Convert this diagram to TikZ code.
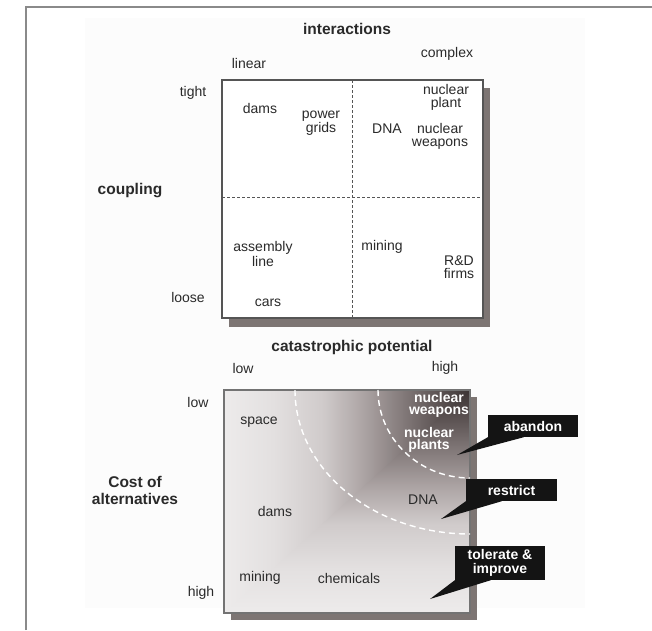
\documentclass[tikz,border=0pt]{standalone}
\usepackage{fontspec}
\setmainfont{Liberation Sans}
\usetikzlibrary{calc}
\definecolor{txt}{HTML}{2A2A2A}
\definecolor{shadowc}{HTML}{7D7573}
\definecolor{framec}{HTML}{8A8A8A}
\definecolor{boxline}{HTML}{555555}
\definecolor{gA}{HTML}{EDEBEB}
\definecolor{gB}{HTML}{E3E0E0}
\definecolor{gC}{HTML}{D0CBCB}
\definecolor{gD}{HTML}{B0A8A8}
\definecolor{gE}{HTML}{8A8181}
\definecolor{gF}{HTML}{615858}
\definecolor{gG}{HTML}{3C3434}
\pgfdeclarehorizontalshading{hshade}{100bp}{color(0bp)=(gA); color(25bp)=(gA); color(35bp)=(gB); color(45bp)=(gC); color(52.5bp)=(gD); color(60bp)=(gE); color(67.5bp)=(gF); color(75bp)=(gG); color(100bp)=(gG)}
\pgfdeclareverticalshading{vshade}{100bp}{color(0bp)=(gA); color(25bp)=(gA); color(35bp)=(gB); color(45bp)=(gC); color(52.5bp)=(gD); color(60bp)=(gE); color(67.5bp)=(gF); color(75bp)=(gG); color(100bp)=(gG)}
\tikzset{
  lbl/.style={inner sep=0pt, align=center, text=txt, font=\fontsize{14}{13}\selectfont},
  wlbl/.style={inner sep=0pt, align=center, text=white, font=\bfseries\fontsize{14}{12.5}\selectfont},
  head/.style={inner sep=0pt, align=center, text=txt, font=\bfseries\fontsize{15.5}{17}\selectfont},
  callout/.style={fill=black!92, inner sep=0pt, align=center, text=white, font=\bfseries\fontsize{14}{14}\selectfont},
  divider/.style={draw=boxline, line width=1pt, dash pattern=on 3pt off 2pt},
  arcline/.style={draw=white, line width=1.4pt, dash pattern=on 6pt off 4pt},
}
\begin{document}
\begin{tikzpicture}[x=1pt,y=-1pt]
\useasboundingbox (0,0) rectangle (652,630);
\fill[white] (0,0) rectangle (652,630);
\fill[black!1] (85,18) rectangle (585,608);
% outer frame
\draw[framec, line width=1.5pt] (26,630) -- (26,7) -- (652,7);

% ---------- top matrix ----------
\node[head] (inter) at (347,29) {interactions};
\node[lbl] (linear) at (249,63) {linear};
\node[lbl] (complex) at (447,54) {complex};
\node[head] (coupling) at (130,191) {coupling};
\node[lbl] (tight) at (193,93) {tight};
\node[lbl] (loose) at (188,297) {loose};

\fill[shadowc] (229,88) rectangle (490,327);
\draw[boxline, fill=white, line width=1.2pt] (222,80) rectangle (483,318);
\coordinate (vt) at (352,80); \coordinate (vb) at (352,318);
\coordinate (hl) at (222,197); \coordinate (hr) at (483,197);
\draw[divider] (vt) -- (vb);
\draw[divider] (hl) -- (hr);

\node[lbl] (dams1) at (260,108) {dams};
\node[lbl] (power) at (321,123) {power\\grids};
\node[lbl] (dna1) at (387,129) {DNA};
\node[lbl] (nplant) at (446,97) {nuclear\\plant};
\node[lbl] (nweap1) at (440,136) {nuclear\\weapons};
\node[lbl] (assembly) at (263,254) {assembly\\line};
\node[lbl] (mining1) at (382,247) {mining};
\node[lbl] (rd) at (459,267) {R\&D\\firms};
\node[lbl] (cars) at (268,303) {cars};

% ---------- bottom matrix ----------
\node[head] (cat) at (352,347) {catastrophic potential};
\node[lbl] (lowtop) at (243,368) {low};
\node[lbl] (hightop) at (445,368) {high};
\node[lbl] (lowleft) at (198,402) {low};
\node[lbl] (highleft) at (201,593) {high};
\node[head] (cost) at (135,490) {Cost of\\alternatives};

\fill[shadowc] (231,397) rectangle (477,620);
\shade[shading=vshade] (224,390) rectangle (470,613);
\shade[shading=hshade] (224,390) -- (470,390) -- (224,613) -- cycle;
\draw[black!55, line width=1.2pt] (224,390) rectangle (470,613);

\draw[arcline] (295,390) arc[start angle=180, end angle=90, x radius=175, y radius=144];
\draw[arcline] (378,390) arc[start angle=180, end angle=90, x radius=92, y radius=88];

\node[lbl] (space) at (259,422) {space};
\node[lbl] (dams2) at (275,511) {dams};
\node[lbl] (mining2) at (260,578) {mining};
\node[lbl] (chem) at (349,578) {chemicals};
\node[lbl] (dna2) at (423,500) {DNA};
\node[wlbl] (nweap2) at (439,405) {nuclear\\weapons};
\node[wlbl] (nplants) at (429,440) {nuclear\\plants};

% ---------- callouts ----------
\node[callout, minimum width=90pt, minimum height=22pt] (aband) at (533,426) {abandon};
\node[callout, minimum width=91pt, minimum height=22pt] (restr) at (511.5,490) {restrict};
\node[callout, minimum width=90pt, minimum height=34pt] (toler) at (500,563) {tolerate \&\\improve};
\coordinate (tipA) at (457,455);
\coordinate (tipR) at (441,519);
\coordinate (tipT) at (430,599);
\fill[black!92] (aband.south west) -- ($(aband.south west)+(36,0)$) -- (tipA) -- cycle;
\fill[black!92] (restr.south west) -- ($(restr.south west)+(36,0)$) -- (tipR) -- cycle;
\fill[black!92] (toler.south west) -- ($(toler.south west)+(36,0)$) -- (tipT) -- cycle;
\end{tikzpicture}
\end{document}
